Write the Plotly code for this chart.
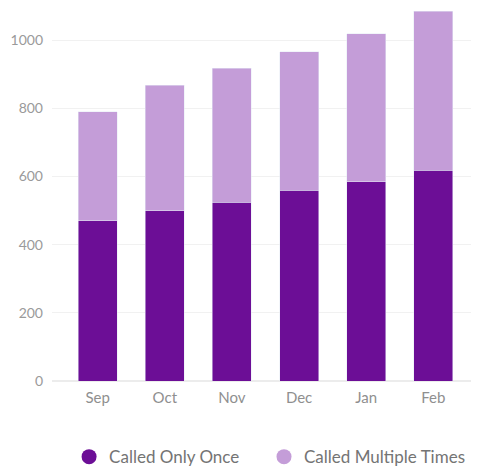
import plotly.graph_objects as go

months = ["Sep", "Oct", "Nov", "Dec", "Jan", "Feb"]
called_once = [470, 500, 525, 560, 585, 618]
called_multiple = [320, 368, 393, 405, 433, 467]
y_ticks = [0, 200, 400, 600, 800, 1000]

dark = "rgb(108,14,150)"
light = "rgb(196,157,216)"

fig = go.Figure()
fig.add_trace(go.Bar(x=months, y=called_once, name="Called Only Once",
                     marker=dict(color=dark), showlegend=False))
fig.add_trace(go.Bar(x=months, y=called_multiple, name="Called Multiple Times",
                     marker=dict(color=light), showlegend=False))
# legend entries with circle markers
fig.add_trace(go.Scatter(x=[None], y=[None], mode="markers", name="Called Only Once",
                         marker=dict(color=dark, size=15, symbol="circle"),
                         legend="legend"))
fig.add_trace(go.Scatter(x=[None], y=[None], mode="markers", name="Called Multiple Times",
                         marker=dict(color=light, size=15, symbol="circle"),
                         legend="legend2"))

legend_style = dict(orientation="h", xanchor="left", y=-0.204, yanchor="middle",
                    font=dict(size=17, color="#747474"), itemwidth=30,
                    bgcolor="rgba(0,0,0,0)")

fig.update_layout(
    width=471, height=462,
    barmode="stack", bargap=0.42,
    plot_bgcolor="white", paper_bgcolor="white",
    margin=dict(l=44, r=0, t=0, b=89, autoexpand=False),
    font=dict(family="Lato, sans-serif", color="#8a8a8a", size=12),
    legend=dict(x=0.04, **legend_style),
    legend2=dict(x=0.4965, **legend_style),
    xaxis=dict(range=[-0.68, 5.68], showgrid=False, showline=False,
               ticks="", ticklabelstandoff=6,
               tickfont=dict(size=15, color="#8f8f8f")),
    yaxis=dict(range=[0, 1094], tickvals=y_ticks, showgrid=True,
               gridcolor="#f1f1f1", zeroline=True, zerolinecolor="#ececec",
               showline=False, ticks="", ticklabelstandoff=8,
               tickfont=dict(size=14, color="#9a9a9a")),
)

fig.write_html("out.html")
